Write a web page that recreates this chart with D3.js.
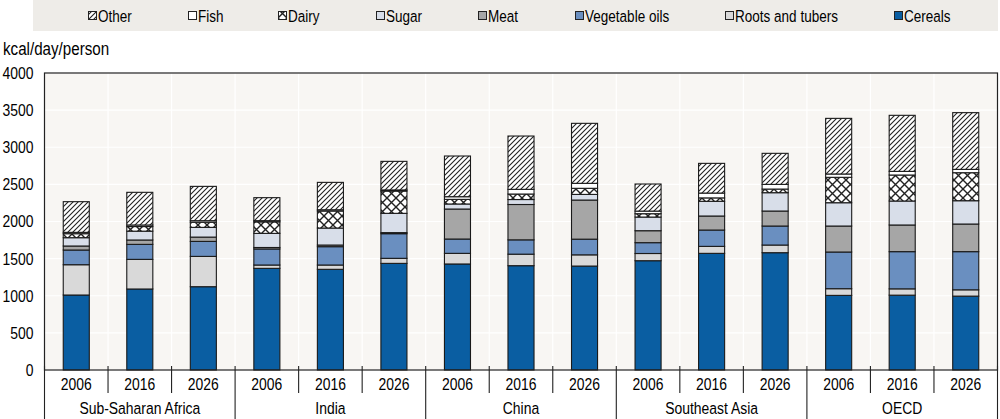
<!DOCTYPE html>
<html>
<head>
<meta charset="utf-8">
<script src="https://cdn.jsdelivr.net/npm/d3@7"></script>
<style>
  html, body { margin: 0; padding: 0; background: #ffffff; }
  svg { display: block; }
  text { font-family: "Liberation Sans", Arial, sans-serif; fill: #000; }
</style>
</head>
<body>
<svg id="chart" width="1000" height="419"></svg>
<script>
// ---------------- DATA ----------------
const regions = ["Sub-Saharan Africa", "India", "China", "Southeast Asia", "OECD"];
const years = ["2006", "2016", "2026"];
const yTicks = [0, 500, 1000, 1500, 2000, 2500, 3000, 3500, 4000];
const yTitle = "kcal/day/person";

// order along the x axis: region x year
const cereals = [1010, 1091, 1122, 1369, 1356, 1436, 1428, 1405, 1400, 1472, 1571, 1580, 1005, 1008, 995];
const roots   = [408, 399, 408, 45, 58, 68, 143, 155, 151, 97, 94, 103, 90, 85, 85];
const vegOils = [198, 202, 202, 216, 247, 332, 193, 193, 211, 146, 220, 256, 494, 501, 514];
const meat    = [54, 59, 58, 20, 22, 14, 404, 476, 527, 161, 189, 202, 350, 359, 372];
const sugar   = [112, 119, 131, 190, 229, 260, 68, 67, 76, 184, 198, 247, 314, 323, 314];
const dairy   = [54, 62, 69, 155, 229, 300, 62, 74, 82, 45, 46, 49, 342, 350, 377];
const fish    = [18, 21, 21, 16, 17, 15, 36, 63, 67, 35, 65, 63, 45, 49, 45];
const other   = [413, 440, 462, 310, 369, 385, 548, 718, 808, 365, 400, 418, 749, 755, 764];

// stacking order bottom -> top
const seriesKeys = ["Cereals", "Roots and tubers", "Vegetable oils", "Meat", "Sugar", "Dairy", "Fish", "Other"];
const seriesValues = [cereals, roots, vegOils, meat, sugar, dairy, fish, other];
// legend order, left -> right
const legendOrder = ["Other", "Fish", "Dairy", "Sugar", "Meat", "Vegetable oils", "Roots and tubers", "Cereals"];

// ---------------- STYLE ----------------
const fills = {
  "Cereals": "#0a5ea2",
  "Roots and tubers": "#d9d9d9",
  "Vegetable oils": "#6a8fc0",
  "Meat": "#a6a6a6",
  "Sugar": "#d8dee9",
  "Dairy": "url(#crossHatch)",
  "Fish": "#ffffff",
  "Other": "url(#diagHatch)"
};
const SX = 0.82; // horizontal condensing of text (narrow face look)

const svg = d3.select("#chart");
const W = 1000, H = 419;
const plot = { left: 44.5, right: 997.5, top: 73, bottom: 370 };

// helper: place a condensed text
function ntext(parent, x, y, str, size, anchor) {
  return parent.append("text")
    .attr("transform", `translate(${x},${y}) scale(${SX},1)`)
    .attr("dy", "0.36em")
    .attr("text-anchor", anchor || "start")
    .style("font-size", size + "px")
    .text(str);
}

// patterns
const defs = svg.append("defs");
const diag = defs.append("pattern").attr("id", "diagHatch")
  .attr("patternUnits", "userSpaceOnUse").attr("width", 5).attr("height", 5);
diag.append("rect").attr("width", 5).attr("height", 5).attr("fill", "#ffffff");
diag.append("path").attr("d", "M-1,1 L1,-1 M0,5 L5,0 M4,6 L6,4")
  .attr("stroke", "#222").attr("stroke-width", 1.1);

const cross = defs.append("pattern").attr("id", "crossHatch")
  .attr("patternUnits", "userSpaceOnUse").attr("width", 9).attr("height", 9);
cross.append("rect").attr("width", 9).attr("height", 9).attr("fill", "#ffffff");
cross.append("path").attr("d", "M0,0 L9,9 M9,0 L0,9")
  .attr("stroke", "#222").attr("stroke-width", 1.4);

// legend background
svg.append("rect").attr("x", 33).attr("y", 0).attr("width", 965).attr("height", 31)
  .attr("fill", "#eeece8");

const legendX = [88, 188, 278, 376, 478, 575, 725, 894];
const legend = svg.append("g");
legendOrder.forEach((k, i) => {
  const g = legend.append("g").attr("transform", `translate(${legendX[i]},0)`);
  g.append("rect").attr("x", 0.5).attr("y", 11.5).attr("width", 8).attr("height", 8)
    .attr("fill", fills[k]).attr("stroke", "#222").attr("stroke-width", 1);
  ntext(g, 10, 16, k, 16.5);
});

// scales
const cats = [];
regions.forEach(r => years.forEach(y => cats.push(r + "|" + y)));
const x = d3.scaleBand().domain(cats).range([plot.left, plot.right]).paddingInner(0.59).paddingOuter(0.295);
const xStep = x.step();
const y = d3.scaleLinear().domain([0, 4000]).range([plot.bottom, plot.top]);

// plot background
svg.append("rect").attr("x", plot.left).attr("y", plot.top)
  .attr("width", plot.right - plot.left).attr("height", plot.bottom - plot.top)
  .attr("fill", "#f8f6f3");

// gridlines
const grid = svg.append("g");
yTicks.forEach(t => {
  grid.append("line").attr("x1", plot.left).attr("x2", plot.right)
    .attr("y1", y(t)).attr("y2", y(t)).attr("stroke", "#ffffff").attr("stroke-width", 1.2);
});
cats.forEach((c, i) => {
  if (i === 0) return;
  const xx = plot.left + i * xStep;
  grid.append("line").attr("x1", xx).attr("x2", xx).attr("y1", plot.top).attr("y2", plot.bottom)
    .attr("stroke", "#ffffff").attr("stroke-width", 1.2);
});

// stack
const rows = cats.map((c, i) => {
  const o = { cat: c };
  seriesKeys.forEach((k, j) => { o[k] = seriesValues[j][i]; });
  return o;
});
const stacked = d3.stack().keys(seriesKeys)(rows);

const barsG = svg.append("g");
stacked.forEach(layer => {
  barsG.append("g").selectAll("rect").data(layer).join("rect")
    .attr("x", d => x(d.data.cat))
    .attr("width", x.bandwidth())
    .attr("y", d => y(d[1]))
    .attr("height", d => y(d[0]) - y(d[1]))
    .attr("fill", fills[layer.key])
    .attr("stroke", "#1a1a1a")
    .attr("stroke-width", 1.1);
});

// frame
svg.append("rect").attr("x", plot.left).attr("y", plot.top)
  .attr("width", plot.right - plot.left).attr("height", plot.bottom - plot.top)
  .attr("fill", "none").attr("stroke", "#222").attr("stroke-width", 1.2);

// y axis labels
const yAxis = d3.axisLeft(y).tickValues(yTicks).tickSize(0).tickPadding(11).tickFormat(d3.format("d"));
const yg = svg.append("g").attr("transform", `translate(${plot.left},0)`).call(yAxis);
yg.select(".domain").remove();
yg.selectAll("text")
  .attr("x", -11 / SX)
  .attr("transform", `scale(${SX},1)`)
  .style("font-size", "17px").style("font-family", null);

ntext(svg, 3, 48, yTitle, 18.5);

// x axis: year labels + separators
const xAxis = d3.axisBottom(x).tickSize(0).tickPadding(8).tickFormat(d => d.split("|")[1]);
const xg = svg.append("g").attr("transform", `translate(0,${plot.bottom})`).call(xAxis);
xg.select(".domain").remove();
xg.selectAll("text")
  .attr("transform", `scale(${SX},1)`)
  .style("font-size", "17px").style("font-family", null);

const sep = svg.append("g");
for (let i = 0; i <= cats.length; i++) {
  const xx = plot.left + i * xStep;
  const isGroup = i % 3 === 0;
  sep.append("line").attr("x1", xx).attr("x2", xx)
    .attr("y1", plot.bottom - 4).attr("y2", isGroup ? H : 393)
    .attr("stroke", "#222").attr("stroke-width", 1.1);
}
regions.forEach((r, gi) => {
  const cx = plot.left + (gi * 3 + 1.5) * xStep;
  ntext(svg, cx, 408, r, 17, "middle");
});
</script>
</body>
</html>
